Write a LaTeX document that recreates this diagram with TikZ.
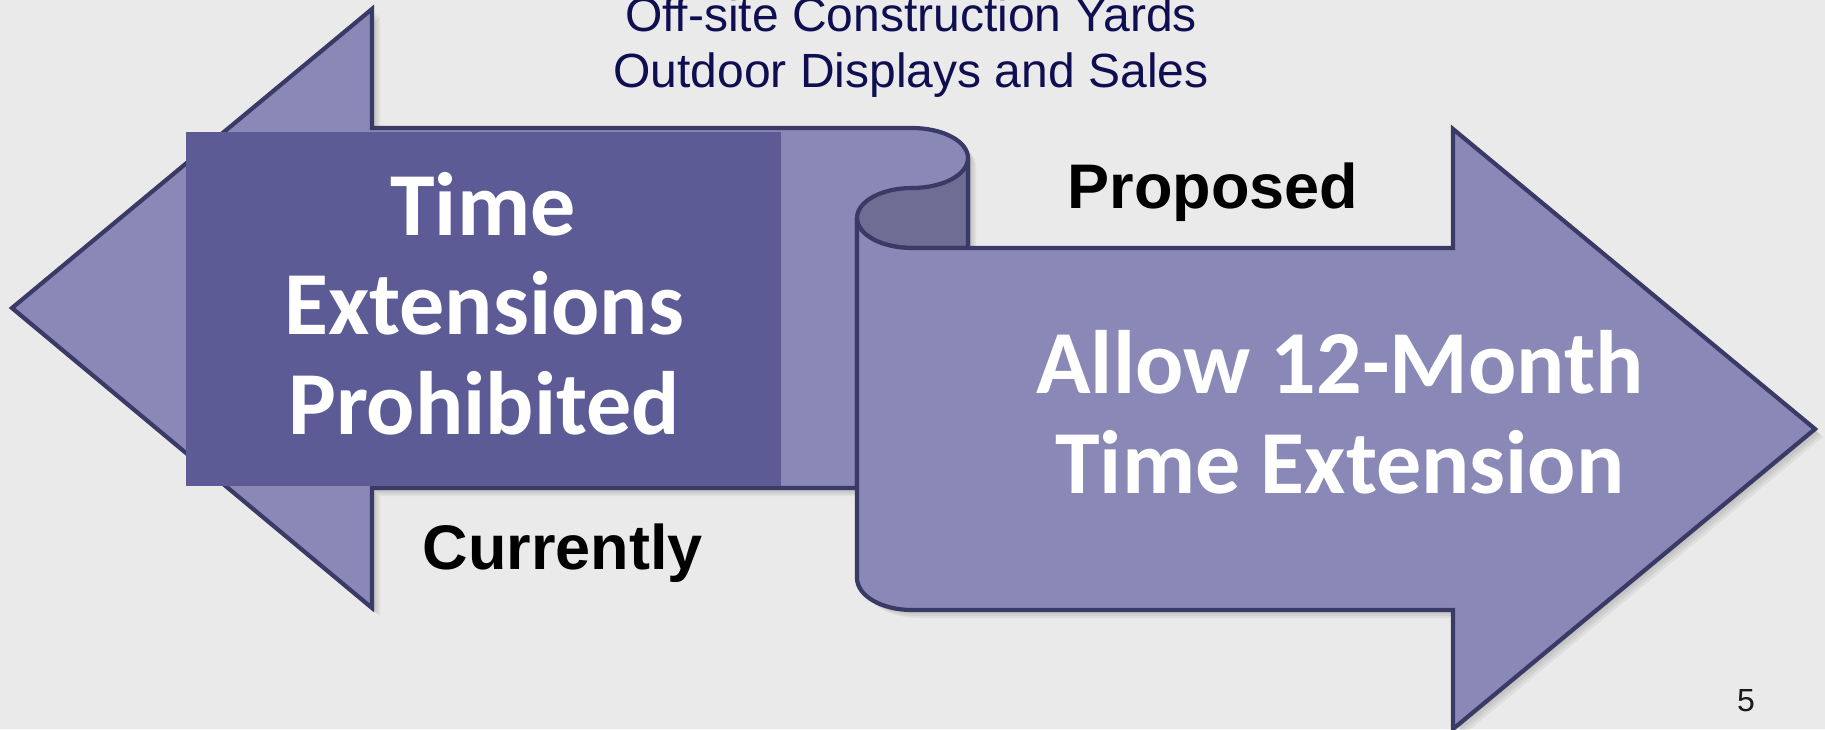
\documentclass[tikz,border=0pt]{standalone}
\usepackage{fontspec}
\setmainfont{Liberation Sans}
\newfontfamily\calib{Carlito}
\begin{document}
\begin{tikzpicture}[x=1pt,y=-1pt,line join=miter]
\definecolor{bgc}{RGB}{234,234,234}
\definecolor{lightfill}{RGB}{137,136,182}
\definecolor{darkrect}{RGB}{92,91,150}
\definecolor{curlfill}{RGB}{110,110,148}
\definecolor{edge}{RGB}{58,58,102}
\definecolor{navy}{RGB}{14,14,80}
\tikzset{
  shapeA/.style={fill=lightfill,draw=edge,line width=4.2pt},
  curlA/.style={fill=curlfill,draw=edge,line width=4.2pt},
  shadowA/.style={fill=black,opacity=0.05},
  bigwhite/.style={text=white,font=\calib\bfseries\fontsize{90}{99}\selectfont,anchor=base,inner sep=0pt},
  blacklbl/.style={text=black,font=\bfseries\fontsize{63}{70}\selectfont,anchor=base,inner sep=0pt},
  toptxt/.style={text=navy,font=\fontsize{48}{56}\selectfont,anchor=base,inner sep=0pt}
}
\def\backpath{(12,308) -- (372,9) -- (372,128) -- (912,128)
  .. controls (942.9,128) and (968,141.4) .. (968,158) -- (968,248) -- (912,248)
  .. controls (881.6,248) and (857,234.6) .. (857,218) -- (857,488) -- (372,488) -- (372,608) -- cycle}
\def\frontpath{(857,218) -- (857,578) .. controls (857,595.7) and (881.6,610) .. (912,610)
  -- (1453,610) -- (1453,729) -- (1815,429) -- (1453,129) -- (1453,248) -- (912,248)
  .. controls (881.6,248) and (857,234.6) .. (857,218) -- cycle}
\useasboundingbox (0,0) rectangle (1825,729);
\fill[bgc] (0,0) rectangle (1825,729);
% soft shadows
\foreach \d in {2,4,6,8}{
  \fill[shadowA,shift={(\d,\d)}] \backpath;
  \fill[shadowA,shift={(\d,\d)}] \frontpath;
}
% back ribbon with left arrow
\draw[shapeA] \backpath;
% dark box
\fill[darkrect] (186,132) rectangle (781,486);
% curl
\draw[curlA] (968,158) .. controls (968,174.6) and (942.9,188) .. (912,188)
  .. controls (881.6,188) and (857,201.4) .. (857,218)
  .. controls (857,234.6) and (881.6,248) .. (912,248) -- (968,248) -- cycle;
% right arrow
\draw[shapeA] \frontpath;
% texts
\node[toptxt] (t1) at (911,31) {Off-site Construction Yards};
\node[toptxt] (t2) at (911,87) {Outdoor Displays and Sales};
\node[bigwhite] (w1) at (483,235) {Time};
\node[bigwhite] (w2) at (484,334) {Extensions};
\node[bigwhite] (w3) at (484,434) {Prohibited};
\node[bigwhite] (r1) at (1340,393) {Allow 12-Month};
\node[bigwhite] (r2) at (1340,493) {Time Extension};
\node[blacklbl] (prop) at (1213,208) {Proposed};
\node[blacklbl] (curr) at (563,569) {Currently};
\node[text=black!90,font=\fontsize{32}{36}\selectfont,anchor=base,inner sep=0pt] (pg) at (1746,711) {5};
\end{tikzpicture}
\end{document}
